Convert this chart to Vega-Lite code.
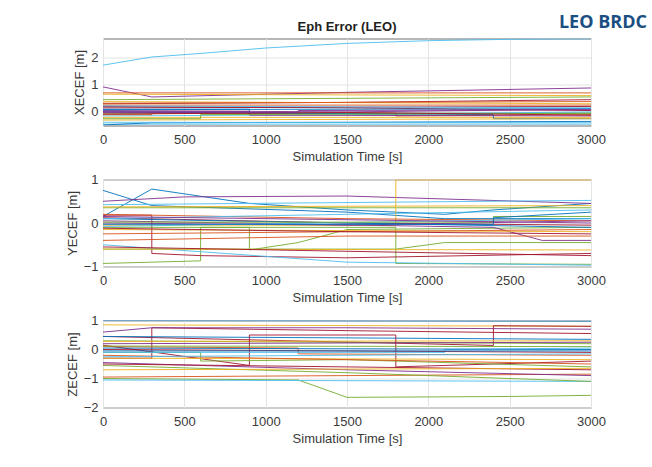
{
  "$schema": "https://vega.github.io/schema/vega-lite/v6.json",
  "background": "white",
  "padding": {"left": 65, "top": 13.5, "right": 6, "bottom": 5},
  "spacing": 8,
  "title": {"text": "LEO BRDC", "anchor": "end", "frame": "bounds", "orient": "top", "offset": -11.5, "dx": 41, "font": "Open Sans", "fontSize": 18, "fontWeight": "bold", "color": "#1b4f82"},
  "config": {
    "font": "Liberation Sans",
    "view": {"stroke": "#6e6e6e", "strokeWidth": 1},
    "axis": {
      "labelFont": "Liberation Sans", "labelFontSize": 13, "labelColor": "#3a3a3a", "format": "d", "labelFlush": false,
      "titleFont": "Liberation Sans", "titleFontSize": 13, "titleFontWeight": "normal", "titleColor": "#3a3a3a",
      "gridColor": "#e3e3e3", "gridWidth": 1, "domain": false,
      "ticks": false, "tickSize": 0, "labelPadding": 8, "titlePadding": 4
    }
  },
  "datasets": {
    "d": [
      {"p":"X","id":"X1","c":5,"t":0,"v":1.72},{"p":"X","id":"X1","c":5,"t":300,"v":2.02},{"p":"X","id":"X1","c":5,"t":600,"v":2.15},{"p":"X","id":"X1","c":5,"t":1000,"v":2.35},{"p":"X","id":"X1","c":5,"t":1500,"v":2.52},{"p":"X","id":"X1","c":5,"t":2000,"v":2.62},{"p":"X","id":"X1","c":5,"t":2500,"v":2.67},{"p":"X","id":"X1","c":5,"t":3000,"v":2.69},
      {"p":"X","id":"X2","c":3,"t":0,"v":0.92},{"p":"X","id":"X2","c":3,"t":300,"v":0.55},{"p":"X","id":"X2","c":3,"t":1500,"v":0.72},{"p":"X","id":"X2","c":3,"t":3000,"v":0.88},
      {"p":"X","id":"X3","c":1,"t":0,"v":0.7},{"p":"X","id":"X3","c":1,"t":3000,"v":0.7},
      {"p":"X","id":"X4","c":2,"t":0,"v":0.65},{"p":"X","id":"X4","c":2,"t":3000,"v":0.6},
      {"p":"X","id":"X5","c":4,"t":0,"v":0.45},{"p":"X","id":"X5","c":4,"t":1500,"v":0.5},{"p":"X","id":"X5","c":4,"t":3000,"v":0.55},
      {"p":"X","id":"X6","c":6,"t":0,"v":0.3},{"p":"X","id":"X6","c":6,"t":1500,"v":0.35},{"p":"X","id":"X6","c":6,"t":3000,"v":0.45},
      {"p":"X","id":"X7","c":2,"t":0,"v":0.38},{"p":"X","id":"X7","c":2,"t":3000,"v":0.3},
      {"p":"X","id":"X8","c":1,"t":0,"v":0.25},{"p":"X","id":"X8","c":1,"t":3000,"v":0.25},
      {"p":"X","id":"X9","c":6,"t":0,"v":0.2},{"p":"X","id":"X9","c":6,"t":1500,"v":0.15},{"p":"X","id":"X9","c":6,"t":3000,"v":0.05},
      {"p":"X","id":"X10","c":0,"t":0,"v":0.1},{"p":"X","id":"X10","c":0,"t":900,"v":0.1},{"p":"X","id":"X10","c":0,"t":900,"v":-0.05},{"p":"X","id":"X10","c":0,"t":3000,"v":-0.05},
      {"p":"X","id":"X11","c":3,"t":0,"v":0.05},{"p":"X","id":"X11","c":3,"t":1500,"v":0.0},{"p":"X","id":"X11","c":3,"t":3000,"v":0.1},
      {"p":"X","id":"X12","c":4,"t":0,"v":-0.05},{"p":"X","id":"X12","c":4,"t":3000,"v":-0.05},
      {"p":"X","id":"X13","c":5,"t":0,"v":-0.15},{"p":"X","id":"X13","c":5,"t":1500,"v":-0.1},{"p":"X","id":"X13","c":5,"t":3000,"v":0.0},
      {"p":"X","id":"X14","c":1,"t":0,"v":-0.1},{"p":"X","id":"X14","c":1,"t":300,"v":-0.1},{"p":"X","id":"X14","c":1,"t":300,"v":-0.05},{"p":"X","id":"X14","c":1,"t":1800,"v":-0.05},{"p":"X","id":"X14","c":1,"t":1800,"v":-0.15},{"p":"X","id":"X14","c":1,"t":3000,"v":-0.1},
      {"p":"X","id":"X15","c":2,"t":0,"v":-0.2},{"p":"X","id":"X15","c":2,"t":3000,"v":-0.2},
      {"p":"X","id":"X16","c":0,"t":0,"v":0.0},{"p":"X","id":"X16","c":0,"t":2400,"v":-0.1},{"p":"X","id":"X16","c":0,"t":2400,"v":-0.25},{"p":"X","id":"X16","c":0,"t":3000,"v":-0.25},
      {"p":"X","id":"X17","c":6,"t":0,"v":0.15},{"p":"X","id":"X17","c":6,"t":3000,"v":0.2},
      {"p":"X","id":"X18","c":5,"t":0,"v":-0.45},{"p":"X","id":"X18","c":5,"t":3000,"v":-0.45},
      {"p":"X","id":"X19","c":0,"t":0,"v":-0.48},{"p":"X","id":"X19","c":0,"t":300,"v":-0.4},{"p":"X","id":"X19","c":0,"t":1500,"v":-0.38},{"p":"X","id":"X19","c":0,"t":3000,"v":-0.35},
      {"p":"X","id":"X20","c":2,"t":0,"v":-0.3},{"p":"X","id":"X20","c":2,"t":3000,"v":-0.25},
      {"p":"X","id":"X21","c":3,"t":0,"v":0.02},{"p":"X","id":"X21","c":3,"t":900,"v":0.02},{"p":"X","id":"X21","c":3,"t":900,"v":-0.12},{"p":"X","id":"X21","c":3,"t":3000,"v":-0.15},
      {"p":"X","id":"X22","c":4,"t":0,"v":-0.25},{"p":"X","id":"X22","c":4,"t":600,"v":-0.25},{"p":"X","id":"X22","c":4,"t":600,"v":-0.1},{"p":"X","id":"X22","c":4,"t":3000,"v":-0.05},
      {"p":"X","id":"X23","c":1,"t":0,"v":0.32},{"p":"X","id":"X23","c":1,"t":3000,"v":0.38},
      {"p":"X","id":"X24","c":0,"t":0,"v":0.08},{"p":"X","id":"X24","c":0,"t":3000,"v":0.12},
      {"p":"X","id":"X25","c":6,"t":0,"v":-0.08},{"p":"X","id":"X25","c":6,"t":1500,"v":-0.02},{"p":"X","id":"X25","c":6,"t":3000,"v":-0.12},
      {"p":"X","id":"X26","c":5,"t":0,"v":0.22},{"p":"X","id":"X26","c":5,"t":3000,"v":0.15},
      {"p":"X","id":"X27","c":5,"t":0,"v":-0.38},{"p":"X","id":"X27","c":5,"t":3000,"v":-0.4},
      {"p":"X","id":"X28","c":3,"t":0,"v":-0.02},{"p":"X","id":"X28","c":3,"t":1200,"v":-0.02},{"p":"X","id":"X28","c":3,"t":1200,"v":0.05},{"p":"X","id":"X28","c":3,"t":3000,"v":0.08},

      {"p":"Y","id":"Y1","c":0,"t":0,"v":0.15},{"p":"Y","id":"Y1","c":0,"t":300,"v":0.78},{"p":"Y","id":"Y1","c":0,"t":900,"v":0.45},{"p":"Y","id":"Y1","c":0,"t":1500,"v":0.3},{"p":"Y","id":"Y1","c":0,"t":2100,"v":0.2},{"p":"Y","id":"Y1","c":0,"t":2400,"v":0.3},{"p":"Y","id":"Y1","c":0,"t":3000,"v":0.45},
      {"p":"Y","id":"Y2","c":0,"t":0,"v":0.75},{"p":"Y","id":"Y2","c":0,"t":300,"v":0.4},{"p":"Y","id":"Y2","c":0,"t":1500,"v":0.25},{"p":"Y","id":"Y2","c":0,"t":2100,"v":0.1},{"p":"Y","id":"Y2","c":0,"t":3000,"v":0.1},
      {"p":"Y","id":"Y3","c":3,"t":0,"v":0.5},{"p":"Y","id":"Y3","c":3,"t":500,"v":0.6},{"p":"Y","id":"Y3","c":3,"t":1500,"v":0.62},{"p":"Y","id":"Y3","c":3,"t":3000,"v":0.45},
      {"p":"Y","id":"Y4","c":5,"t":0,"v":0.42},{"p":"Y","id":"Y4","c":5,"t":3000,"v":0.52},
      {"p":"Y","id":"Y5","c":4,"t":0,"v":0.35},{"p":"Y","id":"Y5","c":4,"t":3000,"v":0.35},
      {"p":"Y","id":"Y6","c":2,"t":0,"v":-0.05},{"p":"Y","id":"Y6","c":2,"t":1800,"v":-0.05},{"p":"Y","id":"Y6","c":2,"t":1800,"v":0.99},{"p":"Y","id":"Y6","c":2,"t":3000,"v":0.99},
      {"p":"Y","id":"Y7","c":4,"t":0,"v":-0.93},{"p":"Y","id":"Y7","c":4,"t":600,"v":-0.87},{"p":"Y","id":"Y7","c":4,"t":600,"v":-0.1},{"p":"Y","id":"Y7","c":4,"t":1800,"v":-0.1},{"p":"Y","id":"Y7","c":4,"t":1800,"v":-0.93},{"p":"Y","id":"Y7","c":4,"t":3000,"v":-0.95},
      {"p":"Y","id":"Y8","c":6,"t":0,"v":0.18},{"p":"Y","id":"Y8","c":6,"t":300,"v":0.18},{"p":"Y","id":"Y8","c":6,"t":300,"v":-0.7},{"p":"Y","id":"Y8","c":6,"t":600,"v":-0.75},{"p":"Y","id":"Y8","c":6,"t":1500,"v":-0.8},{"p":"Y","id":"Y8","c":6,"t":3000,"v":-0.7},
      {"p":"Y","id":"Y9","c":4,"t":0,"v":-0.1},{"p":"Y","id":"Y9","c":4,"t":900,"v":-0.1},{"p":"Y","id":"Y9","c":4,"t":900,"v":-0.62},{"p":"Y","id":"Y9","c":4,"t":1200,"v":-0.45},{"p":"Y","id":"Y9","c":4,"t":1500,"v":-0.15},{"p":"Y","id":"Y9","c":4,"t":3000,"v":-0.1},
      {"p":"Y","id":"Y10","c":5,"t":0,"v":-0.5},{"p":"Y","id":"Y10","c":5,"t":1500,"v":-0.9},{"p":"Y","id":"Y10","c":5,"t":3000,"v":-0.97},
      {"p":"Y","id":"Y11","c":4,"t":0,"v":-0.6},{"p":"Y","id":"Y11","c":4,"t":1800,"v":-0.6},{"p":"Y","id":"Y11","c":4,"t":2100,"v":-0.45},{"p":"Y","id":"Y11","c":4,"t":3000,"v":-0.45},
      {"p":"Y","id":"Y12","c":3,"t":0,"v":0.05},{"p":"Y","id":"Y12","c":3,"t":2400,"v":-0.1},{"p":"Y","id":"Y12","c":3,"t":2700,"v":-0.4},{"p":"Y","id":"Y12","c":3,"t":3000,"v":-0.4},
      {"p":"Y","id":"Y13","c":1,"t":0,"v":-0.4},{"p":"Y","id":"Y13","c":1,"t":1500,"v":-0.3},{"p":"Y","id":"Y13","c":1,"t":3000,"v":-0.3},
      {"p":"Y","id":"Y14","c":2,"t":0,"v":-0.6},{"p":"Y","id":"Y14","c":2,"t":3000,"v":-0.62},
      {"p":"Y","id":"Y15","c":6,"t":0,"v":-0.55},{"p":"Y","id":"Y15","c":6,"t":3000,"v":-0.75},
      {"p":"Y","id":"Y16","c":1,"t":0,"v":0.2},{"p":"Y","id":"Y16","c":1,"t":1500,"v":0.1},{"p":"Y","id":"Y16","c":1,"t":3000,"v":0.05},
      {"p":"Y","id":"Y17","c":6,"t":0,"v":0.12},{"p":"Y","id":"Y17","c":6,"t":1500,"v":0.0},{"p":"Y","id":"Y17","c":6,"t":3000,"v":-0.05},
      {"p":"Y","id":"Y18","c":0,"t":0,"v":0.1},{"p":"Y","id":"Y18","c":0,"t":3000,"v":-0.1},
      {"p":"Y","id":"Y19","c":3,"t":0,"v":0.0},{"p":"Y","id":"Y19","c":3,"t":1500,"v":-0.05},{"p":"Y","id":"Y19","c":3,"t":3000,"v":0.05},
      {"p":"Y","id":"Y20","c":5,"t":0,"v":-0.08},{"p":"Y","id":"Y20","c":5,"t":3000,"v":0.1},
      {"p":"Y","id":"Y21","c":2,"t":0,"v":-0.15},{"p":"Y","id":"Y21","c":2,"t":3000,"v":-0.2},
      {"p":"Y","id":"Y22","c":1,"t":0,"v":-0.25},{"p":"Y","id":"Y22","c":1,"t":3000,"v":-0.15},
      {"p":"Y","id":"Y23","c":4,"t":0,"v":0.02},{"p":"Y","id":"Y23","c":4,"t":2400,"v":0.02},{"p":"Y","id":"Y23","c":4,"t":2400,"v":0.15},{"p":"Y","id":"Y23","c":4,"t":3000,"v":0.15},
      {"p":"Y","id":"Y24","c":0,"t":0,"v":-0.03},{"p":"Y","id":"Y24","c":0,"t":2400,"v":-0.03},{"p":"Y","id":"Y24","c":0,"t":2400,"v":0.12},{"p":"Y","id":"Y24","c":0,"t":3000,"v":0.25},
      {"p":"Y","id":"Y25","c":5,"t":0,"v":0.1},{"p":"Y","id":"Y25","c":5,"t":3000,"v":0.3},
      {"p":"Y","id":"Y26","c":6,"t":0,"v":-0.12},{"p":"Y","id":"Y26","c":6,"t":1500,"v":-0.2},{"p":"Y","id":"Y26","c":6,"t":3000,"v":-0.25},
      {"p":"Y","id":"Y27","c":3,"t":0,"v":0.15},{"p":"Y","id":"Y27","c":3,"t":3000,"v":0.0},
      {"p":"Y","id":"Y28","c":2,"t":0,"v":0.37},{"p":"Y","id":"Y28","c":2,"t":3000,"v":0.4},

      {"p":"Z","id":"Z1","c":0,"t":0,"v":1.0},{"p":"Z","id":"Z1","c":0,"t":3000,"v":0.98},
      {"p":"Z","id":"Z2","c":2,"t":0,"v":0.85},{"p":"Z","id":"Z2","c":2,"t":3000,"v":0.8},
      {"p":"Z","id":"Z3","c":6,"t":0,"v":-0.3},{"p":"Z","id":"Z3","c":6,"t":300,"v":-0.3},{"p":"Z","id":"Z3","c":6,"t":300,"v":0.75},{"p":"Z","id":"Z3","c":6,"t":1500,"v":0.65},{"p":"Z","id":"Z3","c":6,"t":3000,"v":0.55},
      {"p":"Z","id":"Z4","c":3,"t":0,"v":0.6},{"p":"Z","id":"Z4","c":3,"t":300,"v":0.75},{"p":"Z","id":"Z4","c":3,"t":1500,"v":0.75},{"p":"Z","id":"Z4","c":3,"t":3000,"v":0.7},
      {"p":"Z","id":"Z5","c":6,"t":0,"v":0.45},{"p":"Z","id":"Z5","c":6,"t":2400,"v":0.14},{"p":"Z","id":"Z5","c":6,"t":2400,"v":0.82},{"p":"Z","id":"Z5","c":6,"t":3000,"v":0.8},
      {"p":"Z","id":"Z6","c":0,"t":0,"v":0.45},{"p":"Z","id":"Z6","c":0,"t":3000,"v":0.35},
      {"p":"Z","id":"Z7","c":4,"t":0,"v":0.3},{"p":"Z","id":"Z7","c":4,"t":3000,"v":0.2},
      {"p":"Z","id":"Z8","c":2,"t":0,"v":0.28},{"p":"Z","id":"Z8","c":2,"t":3000,"v":0.3},
      {"p":"Z","id":"Z9","c":6,"t":0,"v":0.15},{"p":"Z","id":"Z9","c":6,"t":900,"v":-0.55},{"p":"Z","id":"Z9","c":6,"t":900,"v":0.5},{"p":"Z","id":"Z9","c":6,"t":1800,"v":0.5},{"p":"Z","id":"Z9","c":6,"t":1800,"v":-0.6},{"p":"Z","id":"Z9","c":6,"t":3000,"v":-0.4},
      {"p":"Z","id":"Z10","c":4,"t":0,"v":-0.1},{"p":"Z","id":"Z10","c":4,"t":600,"v":-0.1},{"p":"Z","id":"Z10","c":4,"t":600,"v":-0.4},{"p":"Z","id":"Z10","c":4,"t":1500,"v":-0.35},{"p":"Z","id":"Z10","c":4,"t":3000,"v":-0.6},
      {"p":"Z","id":"Z11","c":1,"t":0,"v":0.1},{"p":"Z","id":"Z11","c":1,"t":1200,"v":0.05},{"p":"Z","id":"Z11","c":1,"t":1200,"v":-0.15},{"p":"Z","id":"Z11","c":1,"t":3000,"v":-0.2},
      {"p":"Z","id":"Z12","c":5,"t":0,"v":-0.1},{"p":"Z","id":"Z12","c":5,"t":2100,"v":-0.1},{"p":"Z","id":"Z12","c":5,"t":2100,"v":0.0},{"p":"Z","id":"Z12","c":5,"t":3000,"v":0.05},
      {"p":"Z","id":"Z13","c":4,"t":0,"v":-1.0},{"p":"Z","id":"Z13","c":4,"t":1200,"v":-1.05},{"p":"Z","id":"Z13","c":4,"t":1500,"v":-1.65},{"p":"Z","id":"Z13","c":4,"t":2500,"v":-1.62},{"p":"Z","id":"Z13","c":4,"t":3000,"v":-1.58},
      {"p":"Z","id":"Z14","c":5,"t":0,"v":-1.05},{"p":"Z","id":"Z14","c":5,"t":3000,"v":-1.1},
      {"p":"Z","id":"Z15","c":1,"t":0,"v":-0.95},{"p":"Z","id":"Z15","c":1,"t":3000,"v":-0.85},
      {"p":"Z","id":"Z16","c":3,"t":0,"v":-0.45},{"p":"Z","id":"Z16","c":3,"t":1500,"v":-0.7},{"p":"Z","id":"Z16","c":3,"t":3000,"v":-0.9},
      {"p":"Z","id":"Z17","c":4,"t":0,"v":-0.55},{"p":"Z","id":"Z17","c":4,"t":1500,"v":-0.8},{"p":"Z","id":"Z17","c":4,"t":3000,"v":-1.1},
      {"p":"Z","id":"Z18","c":6,"t":0,"v":0.0},{"p":"Z","id":"Z18","c":6,"t":3000,"v":-0.1},
      {"p":"Z","id":"Z19","c":0,"t":0,"v":0.05},{"p":"Z","id":"Z19","c":0,"t":3000,"v":0.0},
      {"p":"Z","id":"Z20","c":2,"t":0,"v":-0.3},{"p":"Z","id":"Z20","c":2,"t":3000,"v":-0.35},
      {"p":"Z","id":"Z21","c":1,"t":0,"v":-0.2},{"p":"Z","id":"Z21","c":1,"t":3000,"v":-0.5},
      {"p":"Z","id":"Z22","c":6,"t":0,"v":-0.5},{"p":"Z","id":"Z22","c":6,"t":3000,"v":-0.7},
      {"p":"Z","id":"Z23","c":5,"t":0,"v":-0.25},{"p":"Z","id":"Z23","c":5,"t":3000,"v":-0.15},
      {"p":"Z","id":"Z24","c":3,"t":0,"v":0.2},{"p":"Z","id":"Z24","c":3,"t":3000,"v":0.25},
      {"p":"Z","id":"Z25","c":0,"t":0,"v":-0.05},{"p":"Z","id":"Z25","c":0,"t":3000,"v":-0.05},
      {"p":"Z","id":"Z26","c":2,"t":0,"v":-0.7},{"p":"Z","id":"Z26","c":2,"t":3000,"v":-0.65},
      {"p":"Z","id":"Z27","c":4,"t":0,"v":0.12},{"p":"Z","id":"Z27","c":4,"t":3000,"v":0.1}
    ]
  },
  "vconcat": [
    {
      "width": 488, "height": 87,
      "title": {"text": "Eph Error (LEO)", "font": "Liberation Sans", "fontSize": 13, "fontWeight": "bold", "color": "#222", "offset": 5},
      "data": {"name": "d"},
      "transform": [{"filter": "datum.p == 'X'"}],
      "mark": {"type": "line", "strokeWidth": 1, "clip": true, "opacity": 0.9},
      "encoding": {
        "x": {"field": "t", "type": "quantitative", "scale": {"domain": [0, 3000], "nice": false}, "axis": {"title": "Simulation Time [s]", "values": [0, 500, 1000, 1500, 2000, 2500, 3000]}},
        "y": {"field": "v", "type": "quantitative", "scale": {"domain": [-0.5, 2.7], "nice": false, "zero": false}, "axis": {"title": "XECEF [m]", "values": [0, 1, 2], "labelPadding": 5}},
        "color": {"field": "c", "type": "nominal", "scale": {"domain": [0, 1, 2, 3, 4, 5, 6], "range": ["#0072BD", "#D95319", "#EDB120", "#7E2F8E", "#77AC30", "#4DBEEE", "#A2142F"]}, "legend": null},
        "detail": {"field": "id"},
        "order": {"value": null}
      }
    },
    {
      "width": 488, "height": 87,
      "data": {"name": "d"},
      "transform": [{"filter": "datum.p == 'Y'"}],
      "mark": {"type": "line", "strokeWidth": 1, "clip": true, "opacity": 0.9},
      "encoding": {
        "x": {"field": "t", "type": "quantitative", "scale": {"domain": [0, 3000], "nice": false}, "axis": {"title": "Simulation Time [s]", "values": [0, 500, 1000, 1500, 2000, 2500, 3000]}},
        "y": {"field": "v", "type": "quantitative", "scale": {"domain": [-1, 1], "nice": false}, "axis": {"title": "YECEF [m]", "values": [-1, 0, 1], "labelPadding": 5}},
        "color": {"field": "c", "type": "nominal", "scale": {"domain": [0, 1, 2, 3, 4, 5, 6], "range": ["#0072BD", "#D95319", "#EDB120", "#7E2F8E", "#77AC30", "#4DBEEE", "#A2142F"]}, "legend": null},
        "detail": {"field": "id"},
        "order": {"value": null}
      }
    },
    {
      "width": 488, "height": 87,
      "data": {"name": "d"},
      "transform": [{"filter": "datum.p == 'Z'"}],
      "mark": {"type": "line", "strokeWidth": 1, "clip": true, "opacity": 0.9},
      "encoding": {
        "x": {"field": "t", "type": "quantitative", "scale": {"domain": [0, 3000], "nice": false}, "axis": {"title": "Simulation Time [s]", "values": [0, 500, 1000, 1500, 2000, 2500, 3000]}},
        "y": {"field": "v", "type": "quantitative", "scale": {"domain": [-2, 1], "nice": false}, "axis": {"title": "ZECEF [m]", "values": [-2, -1, 0, 1], "labelPadding": 5}},
        "color": {"field": "c", "type": "nominal", "scale": {"domain": [0, 1, 2, 3, 4, 5, 6], "range": ["#0072BD", "#D95319", "#EDB120", "#7E2F8E", "#77AC30", "#4DBEEE", "#A2142F"]}, "legend": null},
        "detail": {"field": "id"},
        "order": {"value": null}
      }
    }
  ]
}
